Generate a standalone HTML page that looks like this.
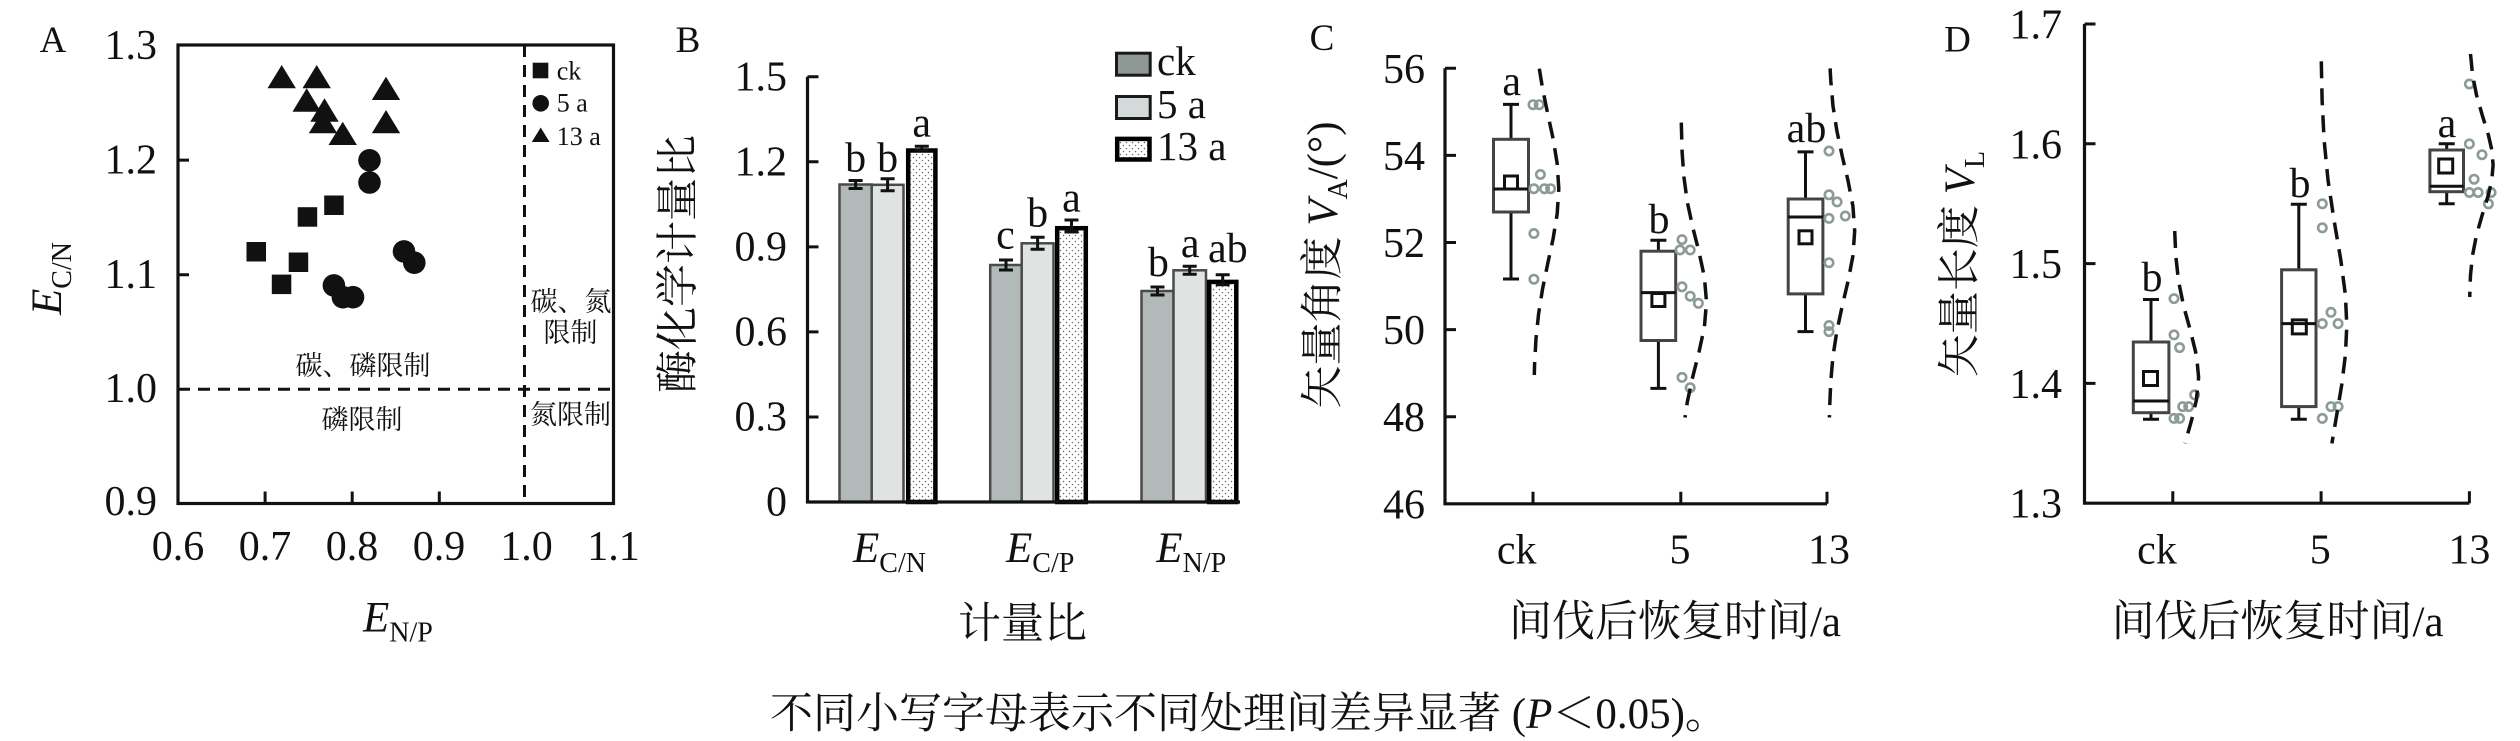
<!DOCTYPE html>
<html><head><meta charset="utf-8">
<style>
html,body{margin:0;padding:0;background:#fff;}
svg{display:block;}
text{font-family:"Liberation Serif","Noto Serif CJK SC",serif;fill:#111;}
.cj{font-family:"Liberation Serif","Noto Serif CJK SC",serif;}
</style></head>
<body>
<svg width="2520" height="741" viewBox="0 0 2520 741" xmlns="http://www.w3.org/2000/svg">
<defs>
<pattern id="dots" width="6" height="6" patternUnits="userSpaceOnUse">
<circle cx="1.5" cy="1.5" r="0.75" fill="#666"/><circle cx="4.5" cy="4.5" r="0.75" fill="#666"/>
</pattern>
</defs>
<rect width="2520" height="741" fill="#fff"/>

<!-- ================= PANEL A ================= -->
<text x="53" y="52" font-size="37" text-anchor="middle">A</text>
<rect x="178" y="45" width="435.5" height="458.5" fill="none" stroke="#111" stroke-width="3.2"/>
<path d="M178 160.1h11 M178 274.7h11 M265.1 503.5v-12 M352.2 503.5v-12 M439.3 503.5v-12" stroke="#111" stroke-width="3"/>
<g font-size="42" text-anchor="end">
<text x="157" y="59">1.3</text>
<text x="157" y="173.5">1.2</text>
<text x="157" y="288">1.1</text>
<text x="157" y="402">1.0</text>
<text x="157" y="515">0.9</text>
</g>
<g font-size="42" text-anchor="middle">
<text x="178" y="560">0.6</text>
<text x="265" y="560">0.7</text>
<text x="352" y="560">0.8</text>
<text x="439" y="560">0.9</text>
<text x="526.5" y="560">1.0</text>
<text x="613.5" y="560">1.1</text>
</g>
<path d="M178 389.3H613.5 M524.5 45V503.5" stroke="#111" stroke-width="3" stroke-dasharray="12 8" fill="none"/>
<text x="363" y="631.7" font-size="43"><tspan font-style="italic">E</tspan><tspan font-size="28" dy="10">N/P</tspan></text>
<text transform="translate(61,278.5) rotate(-90)" text-anchor="middle" font-size="43"><tspan font-style="italic">E</tspan><tspan font-size="28" dy="10">C/N</tspan></text>
<!-- triangles -->
<g fill="#111">
<polygon points="281.7,65 267.5,88.3 295.9,88.3"/>
<polygon points="316.7,65 302.5,88.3 330.9,88.3"/>
<polygon points="306.7,88.3 292.5,111.7 320.9,111.7"/>
<polygon points="324.5,98.3 310.3,121.7 338.7,121.7"/>
<polygon points="323,110 308.8,133.3 337.2,133.3"/>
<polygon points="342.7,121.7 328.5,145 356.9,145"/>
<polygon points="386,76.7 371.8,100 400.2,100"/>
<polygon points="386,110 371.8,133.3 400.2,133.3"/>
<!-- squares -->
<rect x="246.5" y="242" width="19.5" height="19.5"/>
<rect x="271.8" y="274.6" width="19.5" height="19.5"/>
<rect x="288.7" y="252.5" width="19.5" height="19.5"/>
<rect x="297.7" y="207.2" width="19.5" height="19.5"/>
<rect x="324.2" y="195.5" width="19.5" height="19.5"/>
<!-- circles -->
<circle cx="369.5" cy="160.3" r="11.3"/>
<circle cx="369.5" cy="182.5" r="11.3"/>
<circle cx="404" cy="251.4" r="11.3"/>
<circle cx="414.3" cy="262.7" r="11.3"/>
<circle cx="333.9" cy="285.4" r="11.3"/>
<circle cx="342.9" cy="297.2" r="11.3"/>
<circle cx="353" cy="297.2" r="11.3"/>
<!-- legend -->
<rect x="532.7" y="62.7" width="15.6" height="15.6"/>
<circle cx="540.7" cy="103.3" r="8.3"/>
<polygon points="540.7,127.5 531.8,142 549.6,142"/>
</g>
<g font-size="26">
<text x="556.7" y="79.3">ck</text>
<text x="556.7" y="111.7">5 a</text>
<text x="556.7" y="145">13 a</text>
</g>
<g font-size="27" text-anchor="middle" class="cj">
<text x="363" y="375">碳、磷限制</text>
<text x="362" y="429">磷限制</text>
<text x="571" y="311">碳、氮</text>
<text x="570.5" y="342">限制</text>
<text x="570.5" y="424">氮限制</text>
</g>

<!-- ================= PANEL B ================= -->
<text x="688" y="52" font-size="37" text-anchor="middle">B</text>
<g font-size="42" text-anchor="end">
<text x="787" y="90.5">1.5</text>
<text x="787" y="175.5">1.2</text>
<text x="787" y="260.5">0.9</text>
<text x="787" y="345.5">0.6</text>
<text x="787" y="430.5">0.3</text>
<text x="787" y="515.5">0</text>
</g>
<!-- bars -->
<g stroke="#4a4a4a" stroke-width="2.5">
<rect x="839.5" y="184.5" width="32.2" height="317.5" fill="#b1bab8"/>
<rect x="871.7" y="184.8" width="31.8" height="317.2" fill="#dfe3e2"/>
<rect x="990.2" y="265" width="31.5" height="237" fill="#b1bab8"/>
<rect x="1021.7" y="243.3" width="31.8" height="258.7" fill="#dfe3e2"/>
<rect x="1141.5" y="291" width="32" height="211" fill="#b1bab8"/>
<rect x="1173.5" y="270.3" width="32.5" height="231.7" fill="#dfe3e2"/>
</g>
<g stroke="#000" stroke-width="4.5" fill="url(#dots)">
<rect x="908.2" y="150.5" width="27.2" height="351.5"/>
<rect x="1057.2" y="228.2" width="28.6" height="273.8"/>
<rect x="1209.2" y="281.9" width="27.1" height="220.1"/>
</g>
<!-- error bars -->
<g stroke="#111" stroke-width="3" fill="none">
<path d="M855.6 180.5v8 M848.6 180.5h14 M848.6 188.5h14"/>
<path d="M887.6 178.8v12 M880.6 178.8h14 M880.6 190.8h14"/>
<path d="M921.8 146.3v4 M914.8 146.3h14 M914.8 150.3h14"/>
<path d="M1006 260v10 M999 260h14 M999 270h14"/>
<path d="M1037.6 237.3v12 M1030.6 237.3h14 M1030.6 249.3h14"/>
<path d="M1071.5 220v12 M1064.5 220h14 M1064.5 232h14"/>
<path d="M1157.5 287v8 M1150.5 287h14 M1150.5 295h14"/>
<path d="M1189.7 266.3v8 M1182.7 266.3h14 M1182.7 274.3h14"/>
<path d="M1222.7 274.7v10 M1215.7 274.7h14 M1215.7 284.7h14"/>
</g>
<!-- axes -->
<path d="M807.5 76.75V502H1240" stroke="#111" stroke-width="3.2" fill="none"/>
<path d="M807.5 76.75h11 M807.5 161.8h11 M807.5 246.85h11 M807.5 331.9h11 M807.5 416.95h11" stroke="#111" stroke-width="3"/>
<!-- letters -->
<g font-size="42" text-anchor="middle">
<text x="855.6" y="171.7">b</text>
<text x="887.6" y="171.7">b</text>
<text x="921.7" y="136.7">a</text>
<text x="1005.4" y="248.3">c</text>
<text x="1037.6" y="226.7">b</text>
<text x="1071.5" y="211.7">a</text>
<text x="1158.4" y="276">b</text>
<text x="1190.2" y="257">a</text>
<text x="1227.8" y="262">ab</text>
</g>
<!-- legend -->
<rect x="1116.5" y="53.2" width="33.7" height="22" fill="#8e9895" stroke="#1a1a1a" stroke-width="3"/>
<rect x="1116.5" y="96.5" width="33.7" height="22" fill="#d4dad9" stroke="#1a1a1a" stroke-width="3"/>
<rect x="1117.2" y="138.9" width="32.3" height="20.6" fill="url(#dots)" stroke="#000" stroke-width="4.5"/>
<g font-size="41">
<text x="1157" y="75">ck</text>
<text x="1157" y="118">5 a</text>
<text x="1157" y="160">13 a</text>
</g>
<!-- x labels -->
<g font-size="43">
<text x="853" y="562"><tspan font-style="italic">E</tspan><tspan font-size="28" dy="10">C/N</tspan></text>
<text x="1006" y="562"><tspan font-style="italic">E</tspan><tspan font-size="28" dy="10">C/P</tspan></text>
<text x="1156.3" y="562"><tspan font-style="italic">E</tspan><tspan font-size="28" dy="10">N/P</tspan></text>
</g>
<text x="1022.5" y="638" font-size="43" text-anchor="middle" class="cj">计量比</text>
<text transform="translate(692.5,264) rotate(-90)" text-anchor="middle" font-size="43" class="cj">酶化学计量比</text>

<!-- caption -->
<text x="770" y="728" font-size="43" class="cj">不同小写字母表示不同处理间差异显著 (<tspan font-style="italic">P</tspan>＜0.05)。</text>

<!-- ================= PANEL C ================= -->
<text x="1322" y="50" font-size="37" text-anchor="middle">C</text>
<path d="M1445 68.3V503.8H1827" stroke="#111" stroke-width="3.2" fill="none"/>
<path d="M1445 68.3h11 M1445 155.4h11 M1445 242.5h11 M1445 329.6h11 M1445 416.7h11 M1533 503.8v-12 M1680.8 503.8v-12 M1827 503.8v-12" stroke="#111" stroke-width="3"/>
<g font-size="42" text-anchor="end">
<text x="1425" y="82.8">56</text>
<text x="1425" y="169.9">54</text>
<text x="1425" y="257">52</text>
<text x="1425" y="344.1">50</text>
<text x="1425" y="431.2">48</text>
<text x="1425" y="518.3">46</text>
</g>
<g font-size="42" text-anchor="middle">
<text x="1516.7" y="563.5">ck</text>
<text x="1680" y="563.5">5</text>
<text x="1829" y="563.5">13</text>
</g>
<text x="1675" y="636" font-size="43" text-anchor="middle" class="cj">间伐后恢复时间/a</text>
<text transform="translate(1337,265) rotate(-90)" text-anchor="middle" font-size="43" class="cj">矢量角度 <tspan font-style="italic">V</tspan><tspan font-size="28" dy="10">A</tspan><tspan dy="-10">/(°)</tspan></text>
<!-- boxes C -->
<g stroke="#111" stroke-width="3" fill="none">
<path d="M1511 104.4V139.3 M1511 212V279 M1503 104.4h16 M1503 279h16"/>
<path d="M1658.4 240.3V251.2 M1658.4 340.5V388.4 M1650.4 240.3h16 M1650.4 388.4h16"/>
<path d="M1805.5 151.9V199 M1805.5 293.9V331.6 M1797.5 151.9h16 M1797.5 331.6h16"/>
</g>
<g stroke="#444" stroke-width="3" fill="#fff">
<rect x="1493.5" y="139.3" width="35" height="72.7"/>
<rect x="1641" y="251.2" width="34.7" height="89.3"/>
<rect x="1788.2" y="199" width="34.7" height="94.9"/>
</g>
<g stroke="#111" stroke-width="3" fill="none">
<path d="M1493.5 189h35 M1641 292.6h34.7 M1788.2 217h34.7"/>
<rect x="1504.5" y="176" width="13" height="13"/>
<rect x="1651.9" y="293.5" width="13" height="13"/>
<rect x="1799" y="230.8" width="13" height="13"/>
</g>
<g font-size="42" text-anchor="middle">
<text x="1511.7" y="95">a</text>
<text x="1659" y="233">b</text>
<text x="1806.5" y="142">ab</text>
</g>
<!-- points C -->
<g fill="none" stroke="#8b9b97" stroke-width="2.6">
<circle cx="1533" cy="104.7" r="4.2"/><circle cx="1539.2" cy="104.7" r="4.2"/>
<circle cx="1540.4" cy="174.5" r="4.2"/><circle cx="1533.9" cy="188.7" r="4.2"/>
<circle cx="1544.5" cy="188.7" r="4.2"/><circle cx="1550.6" cy="188.7" r="4.2"/>
<circle cx="1533.9" cy="233.5" r="4.2"/><circle cx="1533.9" cy="279.2" r="4.2"/>
<circle cx="1682" cy="239.6" r="4.2"/><circle cx="1680" cy="250" r="4.2"/>
<circle cx="1690.2" cy="250" r="4.2"/><circle cx="1682" cy="286.8" r="4.2"/>
<circle cx="1690.2" cy="296.2" r="4.2"/><circle cx="1698.4" cy="303.3" r="4.2"/>
<circle cx="1682" cy="377.4" r="4.2"/><circle cx="1690.2" cy="387.7" r="4.2"/>
<circle cx="1829" cy="151" r="4.2"/><circle cx="1829" cy="194.8" r="4.2"/>
<circle cx="1837.1" cy="201.9" r="4.2"/><circle cx="1829" cy="218.4" r="4.2"/>
<circle cx="1845.3" cy="216" r="4.2"/><circle cx="1829" cy="262.7" r="4.2"/>
<circle cx="1829" cy="325.5" r="4.2"/><circle cx="1829" cy="331.6" r="4.2"/>
</g>
<g fill="none" stroke="#111" stroke-width="3.5" stroke-dasharray="17 10">
<polyline points="1539.3,68.7 1542.6,88.7 1547.7,113.7 1553.1,138.7 1557.2,163.7 1558.8,188.7 1557.2,213.7 1553.1,238.7 1547.7,263.7 1542.6,288.7 1538.6,313.7 1536,338.7 1534.6,363.7 1534.3,375"/>
<polyline points="1681.3,122.6 1682.1,152 1683.9,177 1687.3,202 1692.7,227 1699,252 1704.4,277 1706.5,302 1704.4,327 1699,352 1692.7,377 1687.3,402 1685,417.5"/>
<polyline points="1830.1,68.4 1830.8,81 1833,106 1836.9,131 1842.2,156 1848.1,181 1852.9,206 1854.7,231 1852.9,256 1848.1,281 1842.2,306 1836.9,331 1833,356 1830.8,381 1829.7,406 1829.4,417.5"/>
</g>

<!-- ================= PANEL D ================= -->
<text x="1957.5" y="51.7" font-size="37" text-anchor="middle">D</text>
<path d="M2084.5 24V503.2H2469.4" stroke="#111" stroke-width="3.2" fill="none"/>
<path d="M2084.5 24h11 M2084.5 143.8h11 M2084.5 263.6h11 M2084.5 383.4h11 M2172.8 503.2v-12 M2321.1 503.2v-12 M2469.4 503.2v-12" stroke="#111" stroke-width="3"/>
<g font-size="42" text-anchor="end">
<text x="2062" y="38.5">1.7</text>
<text x="2062" y="158.3">1.6</text>
<text x="2062" y="278.1">1.5</text>
<text x="2062" y="397.9">1.4</text>
<text x="2062" y="517.7">1.3</text>
</g>
<g font-size="42" text-anchor="middle">
<text x="2157" y="563.5">ck</text>
<text x="2320.3" y="563.5">5</text>
<text x="2469.4" y="563.5">13</text>
</g>
<text x="2277.6" y="636" font-size="43" text-anchor="middle" class="cj">间伐后恢复时间/a</text>
<text transform="translate(1974,264) rotate(-90)" text-anchor="middle" font-size="43" class="cj">矢量长度 <tspan font-style="italic">V</tspan><tspan font-size="28" dy="10">L</tspan></text>
<g stroke="#111" stroke-width="3" fill="none">
<path d="M2151 299.5V342 M2151 412.7V419.3 M2143 299.5h16 M2143 419.3h16"/>
<path d="M2298.8 204.2V269.8 M2298.8 406.6V419.3 M2290.8 204.2h16 M2290.8 419.3h16"/>
<path d="M2446.7 143.8V150 M2446.7 191.7V203.7 M2438.7 143.8h16 M2438.7 203.7h16"/>
</g>
<g stroke="#444" stroke-width="3" fill="#fff">
<rect x="2133.3" y="342" width="35.6" height="70.7"/>
<rect x="2281.6" y="269.8" width="34.4" height="136.8"/>
<rect x="2429.9" y="150" width="33.6" height="41.7"/>
</g>
<g stroke="#111" stroke-width="3" fill="none">
<path d="M2133.3 401h35.6 M2281.6 323.6h34.4 M2429.9 186.3h33.6"/>
<rect x="2143.5" y="371.5" width="14" height="14"/>
<rect x="2292.3" y="319.9" width="14" height="14"/>
<rect x="2438.7" y="159" width="14" height="14"/>
</g>
<g font-size="42" text-anchor="middle">
<text x="2152" y="291">b</text>
<text x="2300" y="197">b</text>
<text x="2447" y="137">a</text>
</g>
<g fill="none" stroke="#8b9b97" stroke-width="2.6">
<circle cx="2174" cy="298.6" r="4.2"/><circle cx="2174" cy="334.9" r="4.2"/>
<circle cx="2179.6" cy="347.6" r="4.2"/><circle cx="2194.6" cy="394.8" r="4.2"/>
<circle cx="2182.7" cy="406.6" r="4.2"/><circle cx="2188.7" cy="406.6" r="4.2"/>
<circle cx="2174" cy="418.4" r="4.2"/><circle cx="2179.6" cy="418.4" r="4.2"/>
<circle cx="2322.3" cy="203.8" r="4.2"/><circle cx="2322.3" cy="227.8" r="4.2"/>
<circle cx="2331" cy="312.3" r="4.2"/><circle cx="2322.3" cy="323.6" r="4.2"/>
<circle cx="2338.1" cy="323.6" r="4.2"/><circle cx="2331" cy="406.6" r="4.2"/>
<circle cx="2338.1" cy="406.6" r="4.2"/><circle cx="2322.3" cy="418.4" r="4.2"/>
<circle cx="2469.4" cy="84" r="4.2"/><circle cx="2469.4" cy="143.9" r="4.2"/>
<circle cx="2482" cy="154.7" r="4.2"/><circle cx="2474.1" cy="179.2" r="4.2"/>
<circle cx="2469.4" cy="192.5" r="4.2"/><circle cx="2478.1" cy="192.5" r="4.2"/>
<circle cx="2491.1" cy="192.5" r="4.2"/><circle cx="2488.4" cy="203.8" r="4.2"/>
</g>
<g fill="none" stroke="#111" stroke-width="3.5" stroke-dasharray="17 10">
<polyline points="2174.7,231 2175.8,256 2178.5,281 2183.6,306 2190.5,331 2196.6,356 2198.6,377.4 2196.4,400 2191.6,420 2185,443.4"/>
<polyline points="2321.3,61.3 2322.1,100 2324.1,140 2328,180 2334,220 2340.8,260 2345.4,295 2346.8,325.5 2345.4,355 2341.7,385 2336.7,415 2331.9,443.4"/>
<polyline points="2470.5,54 2472.6,75 2476.5,95 2482.2,115 2488.4,135 2491.8,150 2493.1,165 2491.8,180 2488.4,195 2482.2,215 2476.5,235 2472.6,255 2470.5,275 2469.7,297"/>
</g>
</svg>
</body></html>
